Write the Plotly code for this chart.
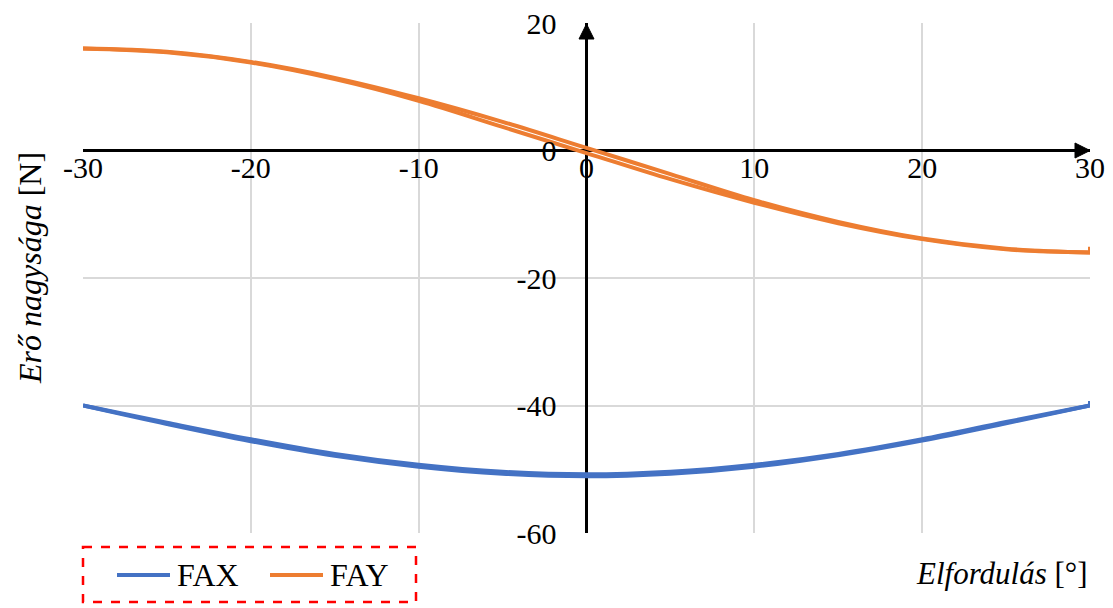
import plotly.graph_objects as go

# Rotation angle [deg] and force components [N], measured on the way out and back
angle_out = [-30, -25, -20, -15, -10, -5, 0, 5, 10, 15, 20, 25, 30]
angle_back = [30, 25, 20, 15, 10, 5, 0, -5, -10, -15, -20, -25, -30]

fax_out = [-40.0, -42.9, -45.6, -47.9, -49.6, -50.7, -51.1, -50.7, -49.6, -47.8, -45.5, -42.8, -40.0]
fax_back = [-40.0, -42.6, -45.3, -47.6, -49.3, -50.4, -50.8, -50.4, -49.3, -47.6, -45.3, -42.7, -40.0]
fax_turn = [-40.0, -39.3]

fay_out = [16.0, 15.5, 13.9, 11.4, 8.2, 4.5, 0.4, -3.7, -7.8, -11.2, -13.8, -15.4, -16.0]
fay_back = [-16.0, -15.5, -13.9, -11.4, -8.2, -4.5, -0.4, 3.7, 7.8, 11.2, 13.8, 15.4, 16.0]
fay_turn = [-16.0, -15.1]
turn_angle = [30, 30]

x_ticks = [-30, -20, -10, 0, 10, 20, 30]
x_labels = ["-30", "-20", "-10", "0", "10", "20", "30"]
y_ticks = [20, 0, -20, -40, -60]
y_labels = ["20", "0", "-20", "-40", "-60"]

FONT = "Liberation Serif"
BLUE = "#4472C4"
ORANGE = "#ED7D31"
series = [
    ("FAX", BLUE, fax_out, fax_back, fax_turn),
    ("FAY", ORANGE, fay_out, fay_back, fay_turn),
]


def joined(*parts):
    xs, ys = [], []
    for px, py in parts:
        if xs:
            xs.append(None)
            ys.append(None)
        xs.extend(px)
        ys.extend(py)
    return xs, ys


fig = go.Figure()

for name, color, out, back, turn in series:
    xs, ys = joined((angle_out, out), (turn_angle, turn), (angle_back, back))
    fig.add_trace(go.Scatter(
        x=xs, y=ys, name=name, mode="lines", showlegend=False,
        line=dict(color=color, width=4, shape="spline", smoothing=1.0),
        connectgaps=False,
    ))

fig.update_layout(
    width=1113, height=608,
    margin=dict(l=83, r=23, t=23, b=75),
    paper_bgcolor="white", plot_bgcolor="white",
    font=dict(family=FONT, size=30, color="black"),
    showlegend=False,
    xaxis=dict(
        range=[-30, 30], tickvals=x_ticks, ticktext=x_labels, ticks="",
        showgrid=True, gridcolor="#d9d9d9", gridwidth=1.5,
        zeroline=True, zerolinecolor="black", zerolinewidth=3,
        showline=False, anchor="free", position=(0 - (-60)) / 80,
        side="bottom", ticklabelstandoff=-4, automargin=False,
        tickfont=dict(family=FONT, size=30),
    ),
    yaxis=dict(
        range=[-60, 20], tickvals=y_ticks, ticktext=y_labels, ticks="",
        showgrid=True, gridcolor="#d9d9d9", gridwidth=1.5,
        zeroline=True, zerolinecolor="black", zerolinewidth=3,
        showline=False, anchor="free", position=0.5,
        side="left", ticklabelstandoff=30, automargin=False,
        tickfont=dict(family=FONT, size=30),
    ),
)

# Arrowheads at the ends of the two axes
fig.add_shape(type="path", xref="x", yref="y", xsizemode="pixel", ysizemode="pixel",
              xanchor=30, yanchor=0, path="M 0 0 L -15 7.5 L -15 -7.5 Z",
              fillcolor="black", line=dict(color="black", width=1))
fig.add_shape(type="path", xref="x", yref="y", xsizemode="pixel", ysizemode="pixel",
              xanchor=0, yanchor=20, path="M 0 -1 L -7.5 -16 L 7.5 -16 Z",
              fillcolor="black", line=dict(color="black", width=1))


# Legend: sample lines and labels inside a dashed red frame
def px_x(p):
    return (p - 83) / 1007


def px_y(p):
    return (533 - p) / 510


fig.add_shape(type="rect", xref="paper", yref="paper",
              x0=px_x(83), x1=px_x(416), y0=px_y(547), y1=px_y(602),
              line=dict(color="#FF0000", width=2.5, dash="dash"))
legend_slots = [(117, 170, 175), (270, 323, 328)]
for (name, color, *_), (l0, l1, tx) in zip(series, legend_slots):
    fig.add_shape(type="line", xref="paper", yref="paper",
                  x0=px_x(l0), x1=px_x(l1), y0=px_y(575), y1=px_y(575),
                  line=dict(color=color, width=4))
    fig.add_annotation(xref="paper", yref="paper", x=px_x(tx), y=px_y(575),
                       xanchor="left", yanchor="middle", showarrow=False,
                       text=name, font=dict(family=FONT, size=32))

# Axis titles
fig.add_annotation(xref="paper", yref="paper", x=1.0, y=px_y(573),
                   xanchor="right", yanchor="middle", showarrow=False,
                   text="<i>Elfordulás</i> [°]", font=dict(family=FONT, size=31))
fig.add_annotation(xref="paper", yref="paper", x=px_x(30), y=px_y(268),
                   xanchor="center", yanchor="middle", showarrow=False, textangle=-90,
                   text="<i>Erő nagysága</i> [N]", font=dict(family=FONT, size=32))

fig.write_html("out.html")
